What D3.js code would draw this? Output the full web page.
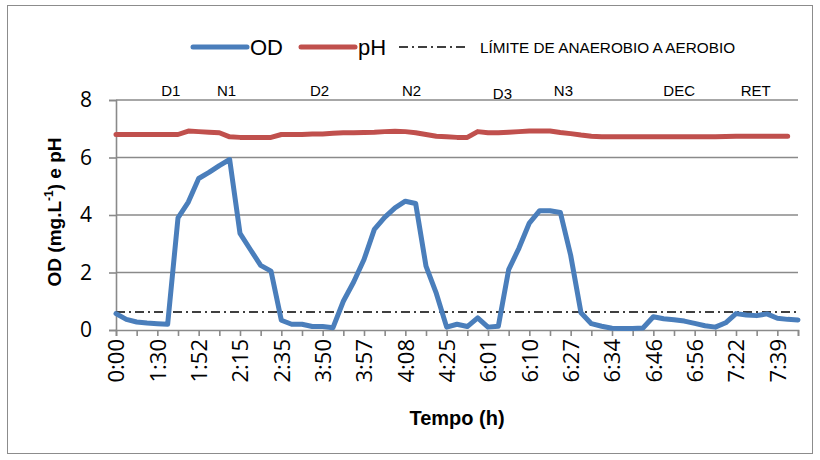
<!DOCTYPE html>
<html>
<head>
<meta charset="utf-8">
<script src="https://cdn.jsdelivr.net/npm/d3@7"></script>
<style>
  html, body { margin: 0; padding: 0; background: #fff; }
  svg { display: block; font-family: Carlito, Calibri, "Liberation Sans", Arial, sans-serif; }
</style>
</head>
<body>
<svg id="chart" width="820" height="460"></svg>
<script>
// Dissolved oxygen (OD, mg/L) and pH sampled over the run, one value per sample
const timeLabels = ["0:00","1:30","1:52","2:15","2:35","3:50","3:57","4:08","4:25",
                    "6:01","6:10","6:27","6:34","6:46","6:56","7:22","7:39"];
const odValues = [0.57,0.37,0.28,0.24,0.22,0.2,3.9,4.45,5.27,5.48,5.72,5.93,
                  3.36,2.8,2.25,2.05,0.34,0.2,0.2,0.12,0.12,0.08,
                  1.0,1.67,2.45,3.5,3.92,4.25,4.48,4.4,2.22,1.27,0.1,
                  0.2,0.12,0.42,0.1,0.13,2.1,2.85,3.72,4.15,4.15,4.09,2.6,0.6,
                  0.22,0.13,0.06,0.05,0.05,0.07,0.46,0.39,0.36,0.31,0.23,0.15,0.1,
                  0.25,0.57,0.52,0.5,0.56,0.41,0.37,0.35];
const phValues = [6.8,6.8,6.8,6.8,6.8,6.8,6.8,6.92,6.9,6.88,6.86,6.72,
                  6.7,6.7,6.7,6.7,6.8,6.8,6.8,6.82,6.82,6.84,
                  6.86,6.86,6.87,6.88,6.9,6.91,6.9,6.86,6.8,6.74,6.72,
                  6.7,6.7,6.9,6.86,6.86,6.88,6.9,6.92,6.92,6.92,6.87,6.83,6.78,
                  6.74,6.72,6.72,6.72,6.72,6.72,6.72,6.72,6.72,6.72,6.72,6.72,6.72,
                  6.73,6.74,6.74,6.74,6.74,6.74,6.74,null];
const threshold = 0.63; // anaerobic → aerobic limit
const phaseNames = ["D1","N1","D2","N2","D3","N3","DEC","RET"];
const phaseAt    = [5.3, 10.7, 19.7, 28.6, 37.4, 43.3, 54.5, 61.9];
const yTicks = [0, 2, 4, 6, 8];

const svg = d3.select("#chart");
const W = 820, H = 460;
const plot = { left: 116, right: 798, top: 100, bottom: 330 };

// chart frame
svg.append("rect").attr("width", W).attr("height", H).attr("fill", "#fff");
svg.append("rect")
  .attr("x", 7.5).attr("y", 5.5).attr("width", 805).attr("height", 448)
  .attr("fill", "none").attr("stroke", "#8c8c8c").attr("stroke-width", 1);

const idx = d3.range(odValues.length);
const x = d3.scalePoint().domain(idx).range([plot.left, plot.right]);
const y = d3.scaleLinear().domain([0, 8]).range([plot.bottom, plot.top]);

// horizontal gridlines
svg.append("g").selectAll("line")
  .data(yTicks.filter(t => t > 0))
  .join("line")
  .attr("x1", plot.left).attr("x2", plot.right)
  .attr("y1", d => y(d)).attr("y2", d => y(d))
  .attr("stroke", "#8a8a8a").attr("stroke-width", 1.6);

// y axis
const yAxis = svg.append("g")
  .attr("transform", `translate(${plot.left},0)`)
  .call(d3.axisLeft(y).tickValues(yTicks).tickSize(7).tickPadding(17).tickFormat(d3.format("d")));
yAxis.select(".domain").attr("stroke", "#8a8a8a").attr("stroke-width", 1.6);
yAxis.selectAll(".tick line").attr("stroke", "#8a8a8a").attr("stroke-width", 1.6);
yAxis.selectAll("text").attr("font-size", 21).attr("fill", "#000")
  .attr("font-family", "'Open Sans', sans-serif");

// x axis: a tick every two samples, a label every four
const xAxis = svg.append("g")
  .attr("transform", `translate(0,${plot.bottom})`)
  .call(d3.axisBottom(x)
    .tickValues(idx.filter(i => i % 2 === 0))
    .tickSize(6)
    .tickFormat(i => (i % 4 === 0 ? timeLabels[i / 4] : "")));
xAxis.select(".domain").attr("stroke", "#8a8a8a").attr("stroke-width", 1.6);
xAxis.selectAll(".tick line").attr("stroke", "#8a8a8a").attr("stroke-width", 1.6);
xAxis.selectAll("text")
  .attr("font-size", 22).attr("fill", "#000")
  .attr("font-family", "'Open Sans', sans-serif")
  .attr("text-anchor", "end")
  .attr("dy", "0.35em")
  .attr("transform", "translate(0,9) rotate(-90)")
  .attr("x", 0).attr("y", 0);

// anaerobic/aerobic limit
svg.append("line")
  .attr("x1", plot.left).attr("x2", plot.right)
  .attr("y1", y(threshold)).attr("y2", y(threshold))
  .attr("stroke", "#000").attr("stroke-width", 1.5)
  .attr("stroke-dasharray", "9,4,2,4");

// series
const line = d3.line()
  .defined(d => d.v != null)
  .x(d => x(d.i)).y(d => y(d.v));
svg.append("path")
  .datum(phValues.map((v, i) => ({ i, v })))
  .attr("d", line).attr("fill", "none")
  .attr("stroke", "#c0504d").attr("stroke-width", 5)
  .attr("stroke-linejoin", "round").attr("stroke-linecap", "round");
svg.append("path")
  .datum(odValues.map((v, i) => ({ i, v })))
  .attr("d", line).attr("fill", "none")
  .attr("stroke", "#4a7ebb").attr("stroke-width", 5)
  .attr("stroke-linejoin", "round").attr("stroke-linecap", "round");

// phase labels above the plot
svg.append("g").selectAll("text")
  .data(phaseNames)
  .join("text")
  .attr("x", (d, k) => plot.left + phaseAt[k] * x.step())
  .attr("y", d => (d === "D3" ? 99 : 96))
  .attr("text-anchor", "middle")
  .attr("font-size", 15)
  .attr("font-family", "'Liberation Sans', Arial, sans-serif")
  .text(d => d);

// legend
const lg = svg.append("g");
lg.append("line").attr("x1", 193).attr("x2", 247).attr("y1", 47).attr("y2", 47)
  .attr("stroke", "#4a7ebb").attr("stroke-width", 5).attr("stroke-linecap", "round");
lg.append("text").attr("x", 250).attr("y", 55).attr("font-size", 22)
  .attr("font-family", "'Liberation Sans Narrow', 'Liberation Sans', sans-serif").text("OD");
lg.append("line").attr("x1", 301).attr("x2", 355).attr("y1", 47).attr("y2", 47)
  .attr("stroke", "#c0504d").attr("stroke-width", 5).attr("stroke-linecap", "round");
lg.append("text").attr("x", 358).attr("y", 55).attr("font-size", 22)
  .attr("font-family", "'Liberation Sans Narrow', 'Liberation Sans', sans-serif").text("pH");
lg.append("line").attr("x1", 399).attr("x2", 466).attr("y1", 47).attr("y2", 47)
  .attr("stroke", "#000").attr("stroke-width", 1.5).attr("stroke-dasharray", "9,4,2,4");
lg.append("text").attr("x", 480).attr("y", 53).attr("font-size", 15.3)
  .attr("font-family", "'Liberation Sans', Arial, sans-serif")
  .text("LÍMITE DE ANAEROBIO A AEROBIO");

// axis titles
const yt = svg.append("text")
  .attr("transform", `translate(61,${(plot.top + plot.bottom) / 2 - 3}) rotate(-90)`)
  .attr("text-anchor", "middle")
  .attr("font-size", 19).attr("font-weight", "bold")
  .attr("font-family", "'Liberation Sans', Arial, sans-serif");
yt.append("tspan").text("OD (mg.L");
yt.append("tspan").attr("font-size", 12).attr("dy", -8).text("-1");
yt.append("tspan").attr("dy", 8).text(") e pH");

svg.append("text")
  .attr("x", (plot.left + plot.right) / 2).attr("y", 425)
  .attr("text-anchor", "middle")
  .attr("font-size", 20).attr("font-weight", "bold")
  .attr("font-family", "'Liberation Sans', Arial, sans-serif")
  .text("Tempo (h)");
</script>
</body>
</html>
